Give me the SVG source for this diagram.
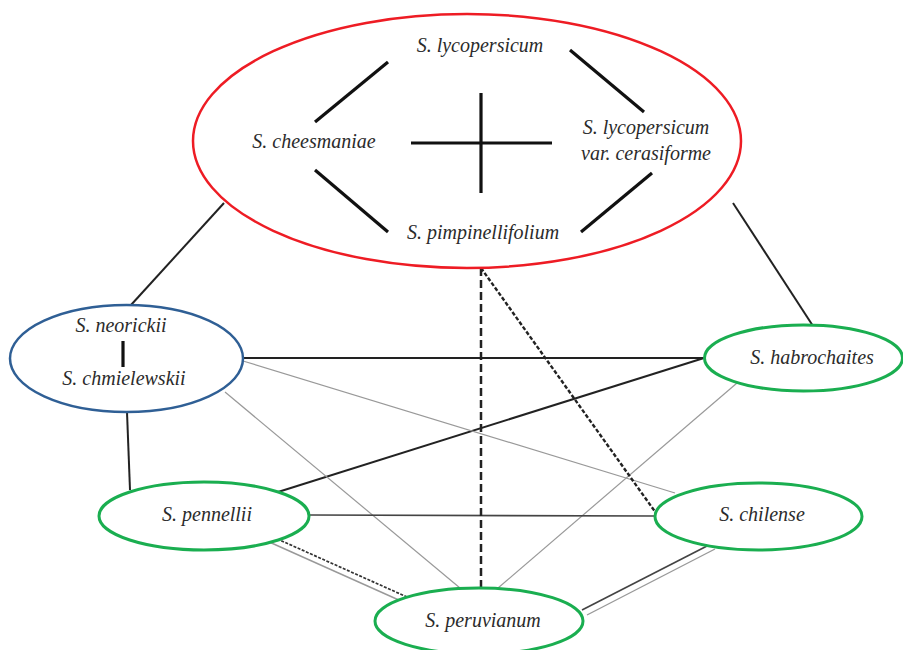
<svg xmlns="http://www.w3.org/2000/svg" width="903" height="650" viewBox="0 0 903 650">
<style>
text{font-family:"Liberation Serif","DejaVu Serif",serif;font-style:italic;font-size:20px;fill:#2b2b2b;text-anchor:middle}
.red{fill:#fff;stroke:#ee1c24;stroke-width:2.5}
.blue{fill:#fff;stroke:#2f5f95;stroke-width:2.5}
.green{fill:#fff;stroke:#1aae50;stroke-width:3}
.in{stroke:#111;stroke-width:3.2;stroke-linecap:butt}
.blk{stroke:#222;stroke-width:2}
.mid{stroke:#444;stroke-width:1.6}
.thin{stroke:#999;stroke-width:1.2}
.dash1{stroke:#222;stroke-width:2.5;stroke-dasharray:8 4}
.dash2{stroke:#222;stroke-width:2.4;stroke-dasharray:4 2}
.dot{stroke:#333;stroke-width:1.7;stroke-dasharray:3 1.5}
.lg{stroke:#999;stroke-width:1.4}
</style>
<rect width="903" height="650" fill="#fff"/>
<g id="connectors" fill="none">
<line class="blk" x1="224" y1="203" x2="131" y2="305"/>
<line class="blk" x1="733" y1="203" x2="813" y2="326"/>
<line class="blk" x1="127" y1="412" x2="130" y2="490"/>
<line class="blk" x1="243" y1="358" x2="704" y2="358"/>
<line class="blk" x1="278" y1="492" x2="704" y2="358"/>
<line class="thin" x1="243" y1="361" x2="675" y2="493"/>
<line class="thin" x1="225" y1="392" x2="460" y2="588"/>
<line class="thin" x1="737" y1="383" x2="498" y2="588"/>
<line class="mid" x1="309" y1="515" x2="655" y2="516"/>
<line class="dash1" x1="481" y1="268" x2="481" y2="588"/>
<line class="dash2" x1="481" y1="268" x2="656" y2="513"/>
<line class="dot" x1="273" y1="537" x2="407" y2="597"/>
<line class="lg" x1="267" y1="541" x2="401" y2="601"/>
<line class="mid" x1="707" y1="546" x2="582" y2="610"/>
<line class="lg" x1="715" y1="549" x2="587" y2="615"/>
</g>
<g id="group-top">
<ellipse class="red" cx="467" cy="141" rx="274" ry="127"/>
<g id="inner-edges">
<line class="in" x1="315" y1="122" x2="388" y2="62"/>
<line class="in" x1="570" y1="50" x2="644" y2="112"/>
<line class="in" x1="315" y1="170" x2="388" y2="232"/>
<line class="in" x1="581" y1="232" x2="652" y2="173"/>
<line class="in" x1="411" y1="143" x2="552" y2="143"/>
<line class="in" x1="481" y1="93" x2="481" y2="193"/>
</g>
<g id="n-lycopersicum"><text x="480" y="52">S. lycopersicum</text></g>
<g id="n-cheesmaniae"><text x="314" y="148">S. cheesmaniae</text></g>
<g id="n-cerasiforme"><text x="646" y="134">S. lycopersicum</text><text x="646" y="160">var. cerasiforme</text></g>
<g id="n-pimpinellifolium"><text x="483" y="239">S. pimpinellifolium</text></g>
</g>
<g id="group-neorickii">
<ellipse class="blue" cx="126.5" cy="358.5" rx="116.5" ry="53.5"/>
<line class="in" x1="123" y1="341" x2="123" y2="367"/>
<g id="n-neorickii"><text x="121" y="332">S. neorickii</text></g>
<g id="n-chmielewskii"><text x="124" y="385">S. chmielewskii</text></g>
</g>
<g id="n-habrochaites">
<ellipse class="green" cx="803.5" cy="358" rx="99" ry="33"/>
<text x="812" y="364">S. habrochaites</text>
</g>
<g id="n-pennellii">
<ellipse class="green" cx="204" cy="516" rx="105" ry="34"/>
<text x="207" y="521">S. pennellii</text>
</g>
<g id="n-chilense">
<ellipse class="green" cx="758.5" cy="516.5" rx="103.5" ry="33.5"/>
<text x="762" y="521">S. chilense</text>
</g>
<g id="n-peruvianum">
<ellipse class="green" cx="479" cy="621" rx="104" ry="33"/>
<text x="483" y="627">S. peruvianum</text>
</g>
</svg>
